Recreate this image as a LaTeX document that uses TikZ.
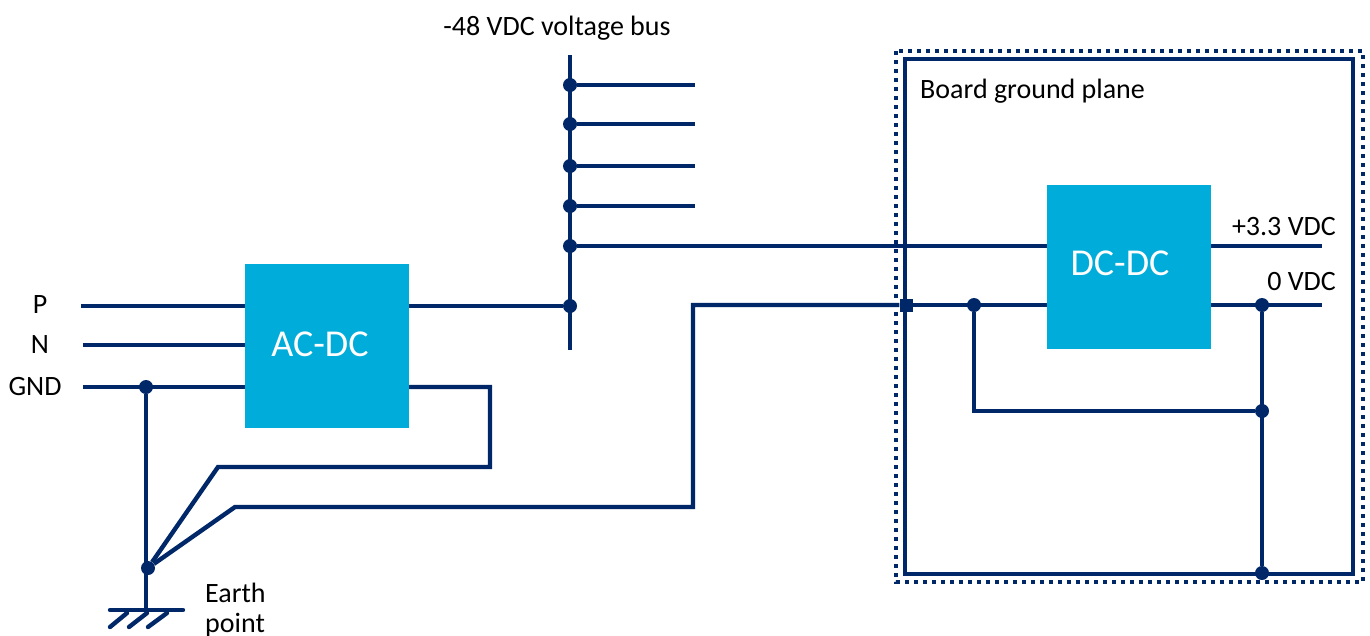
\documentclass[tikz,border=0pt]{standalone}
\usepackage{fontspec}
\setmainfont{Carlito}
\definecolor{wirenavy}{HTML}{002868}
\definecolor{boxcyan}{HTML}{00ACD9}
\tikzset{
    wire/.style={draw=wirenavy, line width=4.4pt},
    hatch/.style={draw=wirenavy, line width=4.4pt, line cap=round},
    dotbox/.style={draw=wirenavy, line width=4pt, dash pattern=on 4pt off 5pt},
    joint/.style={circle, fill=wirenavy, inner sep=0pt, minimum size=14pt},
    sqjoint/.style={rectangle, fill=wirenavy, inner sep=0pt, minimum size=13pt},
    conv/.style={rectangle, fill=boxcyan, inner sep=0pt, minimum size=164pt},
    convtext/.style={text=white, font=\fontsize{38}{38}\selectfont, inner sep=0pt},
    lab/.style={text=black, font=\fontsize{28}{33}\selectfont, inner sep=0pt}
}
\begin{document}
\begin{tikzpicture}[x=1pt, y=-1pt]
    \useasboundingbox (0, 0) rectangle (1370, 635);

    % Board ground plane, dotted outline first
    \draw[dotbox] (896, 51) rectangle (1363, 582);
    \draw[wire] (905, 59) rectangle (1353, 574);

    % The two converters
    \node[conv] (acdc) at (327, 346) {};
    \node[conv] (dcdc) at (1129, 267) {};
    \node[convtext] (acdctext) at (320, 344) {AC-DC};
    \node[convtext] (dcdctext) at (1120, 263) {DC-DC};

    % Free ends and corners
    \coordinate (pin) at (81, 306);
    \coordinate (nin) at (83, 345);
    \coordinate (gndin) at (83, 387);
    \coordinate (bustop) at (570, 55);
    \coordinate (busbot) at (570, 350);
    \coordinate (tapa) at (695, 85);
    \coordinate (tapb) at (695, 124);
    \coordinate (tapc) at (695, 166);
    \coordinate (tapd) at (695, 206);
    \coordinate (out) at (1322, 246);
    \coordinate (zero) at (1322, 305);
    \coordinate (loopa) at (490, 387);
    \coordinate (loopb) at (490, 467);
    \coordinate (loopc) at (218, 467);
    \coordinate (retb) at (235, 507);
    \coordinate (retc) at (693, 507);
    \coordinate (retd) at (693, 305);
    \coordinate (earthbot) at (146, 610);
    \coordinate (earthl) at (110, 610);
    \coordinate (earthr) at (183, 610);

    % Junctions
    \node[joint] (busa) at (570, 85) {};
    \node[joint] (busb) at (570, 124) {};
    \node[joint] (busc) at (570, 166) {};
    \node[joint] (busd) at (570, 206) {};
    \node[joint] (buse) at (570, 246) {};
    \node[joint] (busf) at (570, 306) {};
    \node[joint] (gndj) at (146, 387) {};
    \node[joint] (earthj) at (148, 568) {};
    \node[sqjoint] (entry) at (906, 305) {};
    \node[joint] (zeroa) at (974, 305) {};
    \node[joint] (zerob) at (1262, 305) {};
    \node[joint] (zeroc) at (1262, 411) {};
    \node[joint] (zerod) at (1262, 573) {};
    \coordinate (zeroe) at (974, 411);

    % Mains side
    \draw[wire] (pin) -- (acdc.west |- pin);
    \draw[wire] (nin) -- (acdc.west |- nin);
    \draw[wire] (gndin) -- (acdc.west |- gndin);
    \draw[wire] (acdc.east |- busf) -- (busf);
    \draw[wire] (acdc.east |- loopa) -- (loopa) -- (loopb) -- (loopc) -- (earthj);
    \draw[wire] (gndj) -- (earthbot);
    \draw[wire] (earthj) -- (retb) -- (retc) -- (retd) -- (entry);

    % Voltage bus
    \draw[wire] (bustop) -- (busbot);
    \draw[wire] (busa) -- (tapa);
    \draw[wire] (busb) -- (tapb);
    \draw[wire] (busc) -- (tapc);
    \draw[wire] (busd) -- (tapd);
    \draw[wire] (buse) -- (dcdc.west |- buse);

    % Board side
    \draw[wire] (entry) -- (dcdc.west |- entry);
    \draw[wire] (dcdc.east |- out) -- (out);
    \draw[wire] (dcdc.east |- zero) -- (zero);
    \draw[wire] (zerob) -- (zerod);
    \draw[wire] (zeroa) -- (zeroe) -- (zeroc);

    % Earth symbol
    \draw[hatch] (earthl) -- (earthr);
    \coordinate (hatcha) at (110, 627);
    \coordinate (hatchb) at (127, 613);
    \coordinate (hatchc) at (129, 627);
    \coordinate (hatchd) at (147, 613);
    \coordinate (hatche) at (148, 627);
    \coordinate (hatchf) at (167, 613);
    \draw[hatch] (hatcha) -- (hatchb);
    \draw[hatch] (hatchc) -- (hatchd);
    \draw[hatch] (hatche) -- (hatchf);

    % Labels
    \node[lab] (plab) at (40, 305) {P};
    \node[lab] (nlab) at (40, 345) {N};
    \node[lab] (gndlab) at (35, 387) {GND};
    \node[lab] (buslab) at (557, 28) {-48 VDC voltage bus};
    \node[lab, anchor=west] (boardlab) at (920, 91) {Board ground plane};
    \node[lab, anchor=east] (outlab) at (1336, 227) {+3.3 VDC};
    \node[lab, anchor=east] (zerolab) at (1336, 282) {0 VDC};
    \node[lab, anchor=west] (earthlab) at (205, 593) {Earth};
    \node[lab, anchor=west] (pointlab) at (205, 625) {point};
\end{tikzpicture}
\end{document}
